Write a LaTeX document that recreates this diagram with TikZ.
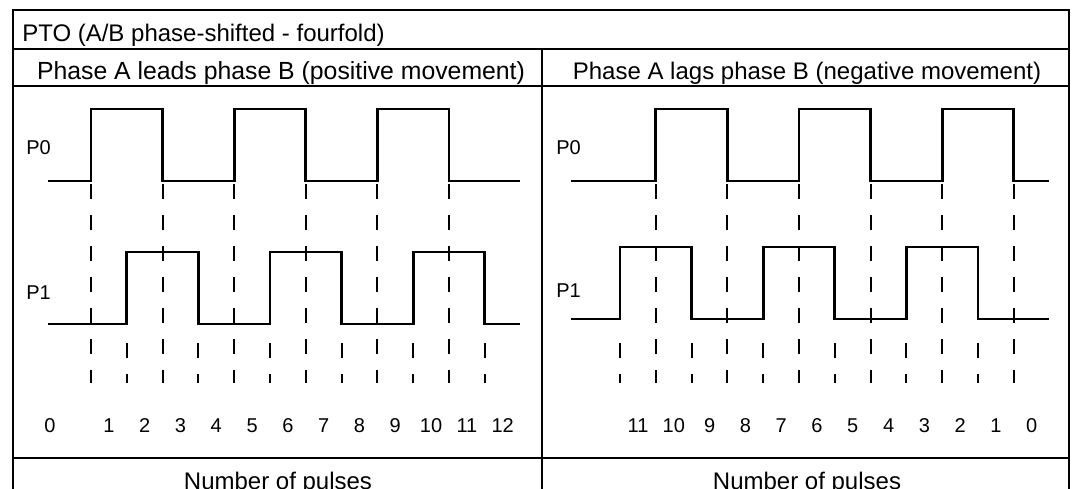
\documentclass[tikz,border=0pt]{standalone}
\usepackage{fontspec}
\setmainfont{Liberation Sans}

\begin{document}
\begin{tikzpicture}[
  x=0.75pt, y=-0.75pt,
  frame/.style={line width=2pt},
  wave/.style={line width=2.2pt, line join=miter},
  guide/.style={line width=1.5pt, dash pattern=on 11.25pt off 12pt},
  head/.style={inner sep=0pt, font=\fontsize{18}{20}\selectfont},
  lbl/.style={inner sep=0pt, font=\fontsize{15}{17}\selectfont}
]
\clip (0,0) rectangle (1072,489);
\draw[frame] (13,10) rectangle (1069,520);
\draw[frame] (13,49) -- (1069,49);
\draw[frame] (13,86) -- (1069,86);
\draw[frame] (13,458) -- (1069,458);
\draw[frame] (542,49) -- (542,520);

\node[head, anchor=base west] (title) at (22,41) {PTO (A/B phase-shifted - fourfold)};
\node[head, anchor=base, font=\fontsize{18.6}{20}\selectfont] (posHead) at (281,79) {Phase A leads phase B (positive movement)};
\node[head, anchor=base] (negHead) at (807,79) {Phase A lags phase B (negative movement)};
\node[head, anchor=base] (posCount) at (278,489.5) {Number of pulses};
\node[head, anchor=base] (negCount) at (807,489.5) {Number of pulses};

\node[lbl, anchor=base west] (posA) at (26,154) {P0};
\node[lbl, anchor=base west] (posB) at (26,299) {P1};
\node[lbl, anchor=base west] (negA) at (556,154) {P0};
\node[lbl, anchor=base west] (negB) at (556,297) {P1};

\draw[wave] (48,181) foreach \k in {0,4,8} {-| ({91+35.8*\k},109) -| ({91+35.8*(\k+2)},181)} -- (520,181);
\draw[wave] (48,324) foreach \k in {1,5,9} {-| ({91+35.8*\k},252) -| ({91+35.8*(\k+2)},324)} -- (520,324);
\draw[wave] (571,181) foreach \k in {1,5,9} {-| ({620+35.8*\k},109) -| ({620+35.8*(\k+2)},181)} -- (1049,181);
\draw[wave] (571,319) foreach \k in {0,4,8} {-| ({620+35.8*\k},247) -| ({620+35.8*(\k+2)},319)} -- (1049,319);

\foreach \k in {0,2,...,10}
  \draw[guide] ({91+35.8*\k},184) -- ({91+35.8*\k},383);
\foreach \k in {1,3,...,11}
  \draw[guide] ({91+35.8*\k},343) -- ({91+35.8*\k},383);
\foreach \k in {1,3,...,11}
  \draw[guide] ({620+35.8*\k},184) -- ({620+35.8*\k},383);
\foreach \k in {0,2,...,10}
  \draw[guide] ({620+35.8*\k},343) -- ({620+35.8*\k},383);

\node[lbl, anchor=base] (posN0) at (50,432) {0};
\foreach \n in {1,...,12}
  \node[lbl, anchor=base] (posN\n) at ({108.9+35.8*(\n-1)},432) {\n};
\foreach \m [evaluate=\m as \n using int(11-\m)] in {0,...,11}
  \node[lbl, anchor=base] (negN\n) at ({638+35.8*\m},432) {\n};
\end{tikzpicture}
\end{document}
